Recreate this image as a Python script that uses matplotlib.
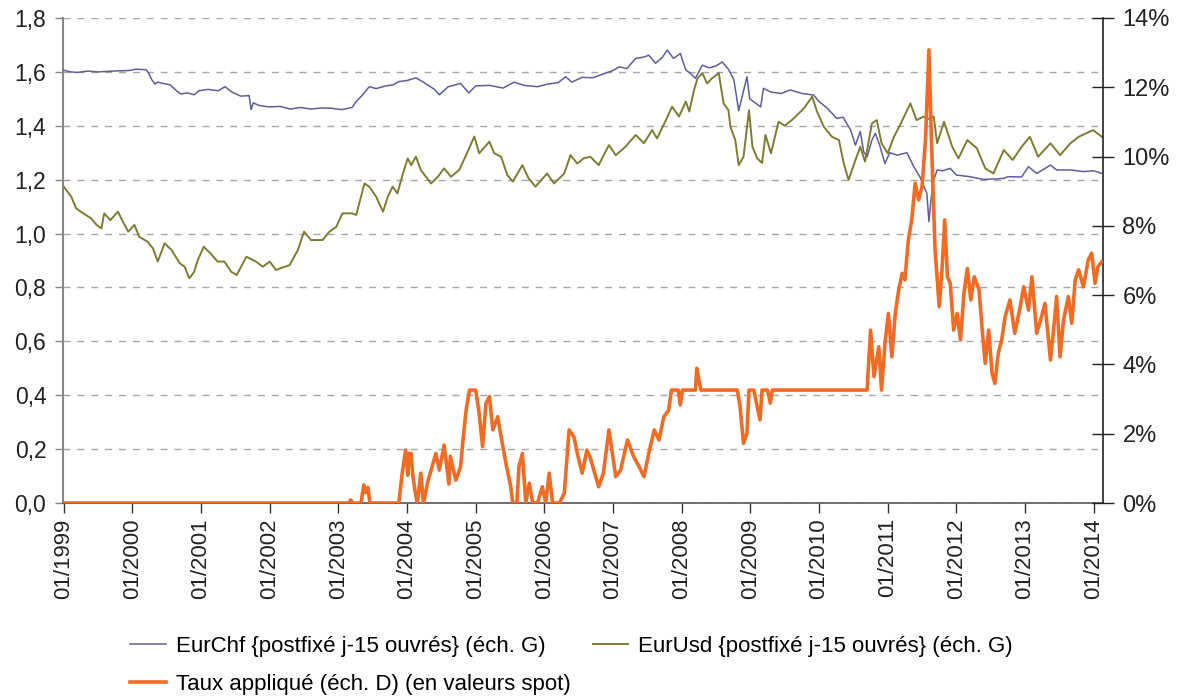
import matplotlib
matplotlib.use("Agg")
import matplotlib.pyplot as plt
from matplotlib.ticker import FuncFormatter, MultipleLocator
from matplotlib.lines import Line2D

plt.rcParams['font.family'] = ['Liberation Sans', 'DejaVu Sans']

# ---- data (decimal years) ----
chf_t = [1999.00,1999.10,1999.20,1999.35,1999.50,1999.65,1999.80,1999.95,2000.05,2000.20,2000.24,2000.28,2000.33,2000.37,2000.45,2000.55,2000.65,2000.71,2000.80,2000.90,2000.97,2001.10,2001.25,2001.35,2001.45,2001.58,2001.70,2001.73,2001.76,2001.85,2002.00,2002.15,2002.30,2002.45,2002.60,2002.75,2002.90,2003.05,2003.20,2003.26,2003.35,2003.45,2003.55,2003.69,2003.80,2003.88,2004.00,2004.13,2004.25,2004.40,2004.47,2004.60,2004.78,2004.90,2005.00,2005.20,2005.40,2005.56,2005.70,2005.90,2006.05,2006.20,2006.31,2006.40,2006.55,2006.70,2006.89,2007.00,2007.09,2007.20,2007.33,2007.45,2007.52,2007.62,2007.72,2007.79,2007.88,2007.98,2008.06,2008.13,2008.20,2008.30,2008.40,2008.50,2008.59,2008.68,2008.76,2008.83,2008.88,2008.95,2008.99,2009.08,2009.15,2009.19,2009.30,2009.45,2009.58,2009.75,2009.92,2010.00,2010.12,2010.26,2010.35,2010.46,2010.53,2010.60,2010.65,2010.70,2010.77,2010.82,2010.88,2010.96,2011.03,2011.14,2011.28,2011.38,2011.47,2011.57,2011.60,2011.63,2011.67,2011.72,2011.80,2011.91,2012.00,2012.20,2012.39,2012.60,2012.69,2012.75,2012.95,2013.05,2013.17,2013.37,2013.46,2013.66,2013.85,2014.00,2014.12]
chf_v = [1.606,1.600,1.598,1.603,1.600,1.602,1.604,1.605,1.610,1.608,1.595,1.572,1.555,1.562,1.557,1.552,1.528,1.518,1.522,1.515,1.530,1.535,1.530,1.545,1.525,1.510,1.512,1.460,1.485,1.475,1.470,1.472,1.462,1.468,1.462,1.466,1.465,1.460,1.468,1.490,1.514,1.545,1.538,1.548,1.552,1.564,1.568,1.578,1.560,1.535,1.515,1.545,1.557,1.522,1.548,1.550,1.540,1.562,1.550,1.545,1.555,1.560,1.582,1.562,1.580,1.578,1.595,1.605,1.619,1.612,1.650,1.655,1.662,1.632,1.655,1.681,1.650,1.668,1.607,1.594,1.576,1.625,1.615,1.622,1.637,1.610,1.570,1.456,1.508,1.582,1.500,1.483,1.470,1.539,1.525,1.520,1.533,1.520,1.514,1.490,1.465,1.427,1.432,1.384,1.328,1.379,1.303,1.285,1.347,1.372,1.330,1.260,1.300,1.291,1.300,1.248,1.210,1.149,1.044,1.125,1.200,1.236,1.233,1.242,1.217,1.211,1.201,1.203,1.205,1.211,1.210,1.248,1.223,1.254,1.236,1.236,1.230,1.233,1.223]

usd_t = [1999.00,1999.11,1999.18,1999.25,1999.40,1999.48,1999.55,1999.59,1999.68,1999.79,1999.86,1999.94,2000.03,2000.10,2000.22,2000.30,2000.37,2000.47,2000.57,2000.69,2000.76,2000.83,2000.90,2000.95,2001.04,2001.14,2001.24,2001.34,2001.44,2001.52,2001.66,2001.80,2001.90,2002.00,2002.09,2002.29,2002.41,2002.50,2002.60,2002.77,2002.87,2002.97,2003.06,2003.20,2003.26,2003.38,2003.45,2003.55,2003.65,2003.72,2003.79,2003.86,2003.94,2004.01,2004.06,2004.13,2004.20,2004.35,2004.45,2004.54,2004.64,2004.76,2004.86,2004.98,2005.05,2005.20,2005.27,2005.37,2005.46,2005.54,2005.68,2005.77,2005.87,2006.04,2006.14,2006.29,2006.38,2006.48,2006.57,2006.67,2006.79,2006.94,2007.04,2007.18,2007.33,2007.45,2007.57,2007.64,2007.77,2007.86,2007.96,2008.06,2008.11,2008.18,2008.23,2008.30,2008.37,2008.44,2008.54,2008.61,2008.68,2008.71,2008.78,2008.83,2008.90,2008.98,2009.03,2009.10,2009.17,2009.22,2009.30,2009.41,2009.50,2009.63,2009.78,2009.90,2009.97,2010.07,2010.19,2010.29,2010.36,2010.43,2010.53,2010.60,2010.67,2010.77,2010.84,2010.91,2011.00,2011.09,2011.18,2011.33,2011.42,2011.52,2011.60,2011.67,2011.72,2011.82,2011.94,2012.03,2012.16,2012.30,2012.42,2012.54,2012.69,2012.82,2012.95,2013.07,2013.19,2013.37,2013.51,2013.66,2013.78,2013.99,2014.12]
usd_v = [1.174,1.137,1.094,1.081,1.056,1.032,1.019,1.075,1.050,1.081,1.045,1.007,1.032,0.988,0.970,0.945,0.896,0.964,0.939,0.890,0.877,0.834,0.858,0.900,0.951,0.926,0.896,0.896,0.858,0.846,0.914,0.896,0.877,0.896,0.865,0.883,0.939,1.007,0.976,0.976,1.007,1.025,1.075,1.075,1.069,1.186,1.174,1.137,1.081,1.137,1.174,1.149,1.223,1.279,1.254,1.285,1.236,1.186,1.211,1.242,1.211,1.236,1.291,1.360,1.298,1.341,1.298,1.285,1.217,1.193,1.254,1.205,1.174,1.223,1.186,1.223,1.291,1.260,1.279,1.285,1.254,1.328,1.291,1.322,1.366,1.335,1.384,1.353,1.421,1.471,1.434,1.490,1.453,1.533,1.576,1.595,1.557,1.576,1.595,1.483,1.458,1.396,1.347,1.254,1.285,1.458,1.322,1.279,1.262,1.366,1.298,1.415,1.400,1.427,1.465,1.508,1.453,1.396,1.359,1.347,1.260,1.199,1.273,1.322,1.267,1.409,1.421,1.335,1.298,1.359,1.403,1.483,1.421,1.434,1.425,1.434,1.335,1.415,1.322,1.279,1.347,1.316,1.242,1.223,1.310,1.273,1.322,1.359,1.285,1.335,1.291,1.335,1.359,1.384,1.359]

taux_t = [1999.00,2003.15,2003.18,2003.21,2003.33,2003.37,2003.40,2003.43,2003.46,2003.88,2003.93,2003.98,2004.01,2004.03,2004.06,2004.08,2004.12,2004.15,2004.20,2004.24,2004.30,2004.42,2004.47,2004.54,2004.61,2004.63,2004.71,2004.78,2004.81,2004.86,2004.91,2005.00,2005.05,2005.10,2005.15,2005.20,2005.25,2005.32,2005.37,2005.44,2005.51,2005.54,2005.60,2005.63,2005.68,2005.73,2005.78,2005.83,2005.90,2005.97,2006.02,2006.07,2006.12,2006.22,2006.29,2006.36,2006.43,2006.48,2006.55,2006.62,2006.67,2006.79,2006.86,2006.94,2007.04,2007.11,2007.21,2007.30,2007.38,2007.45,2007.52,2007.60,2007.67,2007.74,2007.81,2007.85,2007.95,2007.98,2008.01,2008.20,2008.22,2008.25,2008.28,2008.81,2008.85,2008.90,2008.95,2008.98,2009.05,2009.10,2009.14,2009.17,2009.25,2009.29,2009.32,2010.70,2010.75,2010.80,2010.87,2010.91,2010.96,2011.01,2011.06,2011.11,2011.16,2011.21,2011.25,2011.30,2011.35,2011.40,2011.45,2011.50,2011.55,2011.60,2011.63,2011.66,2011.69,2011.75,2011.79,2011.83,2011.87,2011.91,2011.96,2012.01,2012.06,2012.11,2012.16,2012.21,2012.26,2012.33,2012.38,2012.42,2012.47,2012.52,2012.56,2012.61,2012.66,2012.71,2012.78,2012.85,2012.93,2012.98,2013.05,2013.10,2013.17,2013.24,2013.29,2013.37,2013.41,2013.46,2013.51,2013.56,2013.63,2013.68,2013.73,2013.78,2013.85,2013.92,2013.97,2014.02,2014.06,2014.12]
taux_v = [0,0,0.09,0,0,0.52,0.30,0.45,0,0,0.86,1.53,0.80,1.43,1.43,0.86,0.3,0,0.86,0,0.60,1.43,0.95,1.67,0.55,1.35,0.66,1.05,1.72,2.68,3.26,3.26,2.59,1.63,2.88,3.07,2.11,2.49,1.91,1.15,0.47,0,0,1.05,1.43,0,0.57,0,0,0.47,0,0.86,0,0,0.28,2.11,1.91,1.43,0.86,1.53,1.30,0.47,0.86,2.11,0.76,0.95,1.82,1.34,1.05,0.76,1.43,2.11,1.82,2.49,2.68,3.26,3.26,2.83,3.26,3.26,3.89,3.55,3.26,3.26,2.78,1.72,2.01,3.26,3.26,2.78,2.40,3.26,3.26,2.88,3.26,3.26,4.99,3.65,4.51,3.26,4.61,5.47,4.22,5.47,6.15,6.63,6.44,7.59,8.17,9.23,8.75,9.13,10.48,13.08,10.96,9.00,7.30,5.67,6.73,8.17,6.53,6.34,4.99,5.47,4.71,6.05,6.77,5.86,6.53,6.15,4.90,4.03,4.99,3.74,3.45,4.32,4.71,5.38,5.86,4.90,5.67,6.24,5.57,6.53,4.90,5.38,5.76,4.13,4.90,5.96,4.22,5.28,5.96,5.19,6.44,6.73,6.24,7.01,7.21,6.34,6.82,6.97]

years = list(range(1999, 2015))
year_labels = ["01/%d" % y for y in years]
labels = ["EurChf {postfixé j-15 ouvrés} (éch. G)",
          "EurUsd {postfixé j-15 ouvrés} (éch. G)",
          "Taux appliqué (éch. D) (en valeurs spot)"]

c_chf = "#5E5E9E"
c_usd = "#7E7C31"
c_taux = "#F26B24"

fig = plt.figure(figsize=(11.78, 6.98), dpi=100)
ax = fig.add_axes([63/1178, 1-503/698, (1103-63)/1178, (503-18)/698])
ax2 = ax.twinx()

ax.plot(chf_t, chf_v, color=c_chf, lw=1.1, zorder=3)
ax.plot(usd_t, usd_v, color=c_usd, lw=1.4, zorder=3)
ax2.plot(taux_t, taux_v, color=c_taux, lw=2.6, zorder=4)

ax.set_xlim(1999.0 - 0.01, 2014.135)
ax.set_ylim(0, 1.8)
ax2.set_ylim(0, 14)

ax.yaxis.set_major_locator(MultipleLocator(0.2))
ax.yaxis.set_major_formatter(FuncFormatter(lambda v, p: ("%.1f" % v).replace(".", ",")))
ax2.yaxis.set_major_locator(MultipleLocator(2))
ax2.yaxis.set_major_formatter(FuncFormatter(lambda v, p: "%d%%" % round(v)))

ax.set_xticks(years)
ax.set_xticklabels(year_labels, rotation=90)

ax.grid(axis='y', color='#A6A6A6', linestyle=(0, (5, 5)), lw=1.0)
ax.set_axisbelow(True)

for a in (ax, ax2):
    a.spines['top'].set_visible(False)
ax.spines['left'].set_color('#888888')
ax.spines['left'].set_linewidth(1.5)
ax.spines['bottom'].set_color('#555555')
ax.spines['bottom'].set_linewidth(1.2)
ax.spines['right'].set_visible(False)
ax2.spines['left'].set_visible(False)
ax2.spines['bottom'].set_visible(False)
ax2.spines['right'].set_color('#222222')
ax2.spines['right'].set_linewidth(1.2)

ax.tick_params(axis='y', direction='out', length=6, width=1, color='#888888',
               labelsize=16.5, labelcolor='#222222', pad=6)
ax.tick_params(axis='x', direction='out', length=7, width=1, color='#333333',
               labelsize=16, labelcolor='#222222', pad=4)
ax2.tick_params(axis='y', direction='inout', length=16, width=1, color='#222222',
                labelsize=17, labelcolor='#222222', pad=6)

handles = [Line2D([], [], color=c_chf, lw=1.1),
           Line2D([], [], color=c_taux, lw=2.6),
           Line2D([], [], color=c_usd, lw=1.4)]
leg = fig.legend(handles, [labels[0], labels[2], labels[1]], ncol=2,
                 loc='upper left', bbox_to_anchor=(130/1178, 1-636/698),
                 frameon=False, fontsize=16, handlelength=1.6, handletextpad=0.45,
                 columnspacing=1.0, labelspacing=0.75, borderaxespad=0, borderpad=0)

fig.savefig("out.png", dpi=100)
